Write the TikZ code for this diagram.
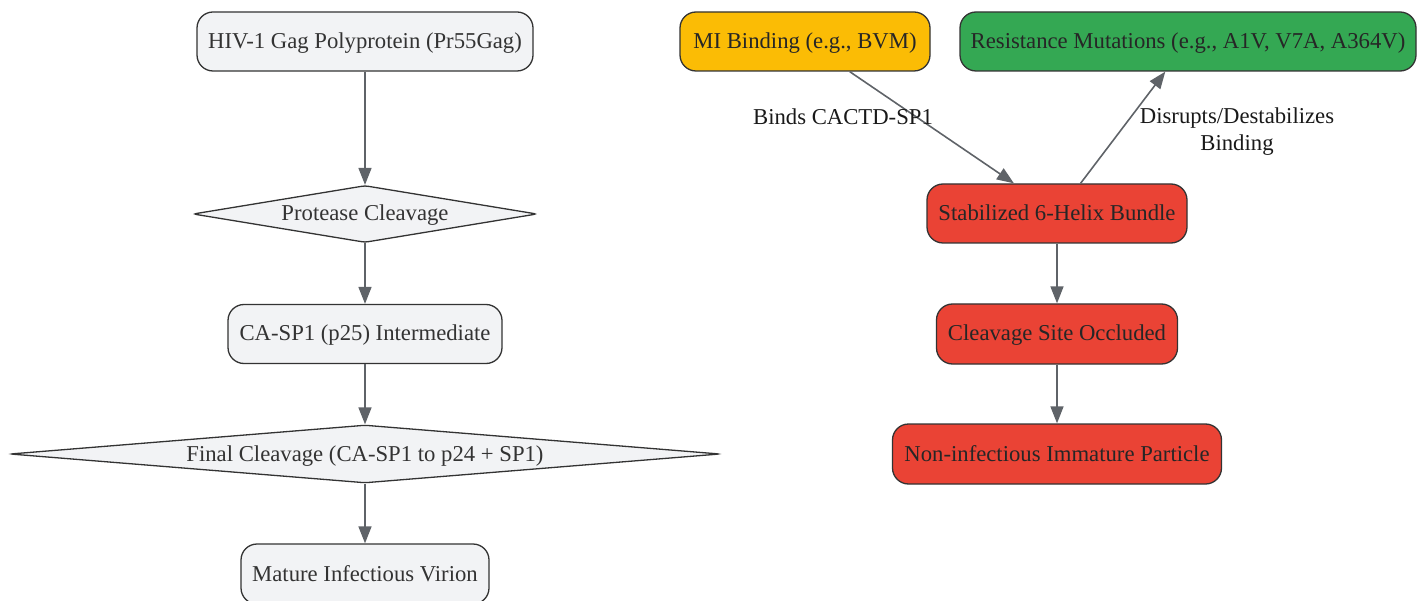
\documentclass[tikz,border=0pt]{standalone}
\usepackage{fontspec}
\setmainfont{Liberation Serif}
\usetikzlibrary{shapes.geometric,arrows.meta}
\definecolor{boxgray}{HTML}{F2F3F5}
\definecolor{linegray}{HTML}{333333}
\definecolor{edgegray}{HTML}{5F6368}
\definecolor{miyellow}{HTML}{FBBC05}
\definecolor{resgreen}{HTML}{34A853}
\definecolor{blockred}{HTML}{EA4335}
\begin{document}
\begin{tikzpicture}[x=1pt,y=-1pt,
  every node/.style={font=\fontsize{22.7}{27}\selectfont},
  stepbox/.style={draw=linegray,line width=1.3pt,rounded corners=16pt,fill=boxgray,
    text=linegray,minimum height=59pt,inner xsep=0pt,text height=17pt,text depth=3pt},
  decision/.style={draw=linegray,line width=1.3pt,shape=diamond,rounded corners=3pt,
    fill=boxgray,text=linegray,inner sep=0pt,minimum height=57pt,text height=17pt,text depth=3pt},
  flow/.style={draw=edgegray,line width=1.6pt,-{Triangle[length=17pt,width=13pt]}},
  elabel/.style={text=black!90,align=center}]
\useasboundingbox (0,0) rectangle (1423,601);
% left column: normal maturation
\node[stepbox,minimum width=336pt] (gag) at (365,41.5) {HIV-1 Gag Polyprotein (Pr55Gag)};
\node[decision,aspect=7,minimum width=344pt] (prot) at (365,214) {Protease Cleavage};
\node[stepbox,minimum width=274pt] (casp) at (365,334) {CA-SP1 (p25) Intermediate};
\node[decision,aspect=12,minimum width=710pt,minimum height=58pt] (final) at (365,454) {Final Cleavage (CA-SP1 to p24 + SP1)};
\node[stepbox,minimum width=248pt,minimum height=60pt] (virion) at (365,574) {Mature Infectious Virion};
% right column: inhibitor action
\node[stepbox,fill=miyellow,text=black!85,minimum width=250pt] (mi) at (805,41.5) {MI Binding (e.g., BVM)};
\node[stepbox,fill=resgreen,text=black!85,minimum width=456pt] (res) at (1188,41.5) {Resistance Mutations (e.g., A1V, V7A, A364V)};
\node[stepbox,fill=blockred,text=black!85,minimum width=260pt] (bundle) at (1057,213.5) {Stabilized 6-Helix Bundle};
\node[stepbox,fill=blockred,text=black!85,minimum width=241pt,minimum height=60pt] (occl) at (1057,334) {Cleavage Site Occluded};
\node[stepbox,fill=blockred,text=black!85,minimum width=329pt,minimum height=60pt] (nonin) at (1057,454) {Non-infectious Immature Particle};
\draw[flow] (gag) -- (prot);
\draw[flow] (prot) -- (casp);
\draw[flow] (casp) -- (final);
\draw[flow] (final) -- (virion);
\draw[flow] (mi.-34) -- (bundle.145);
\draw[flow] (bundle.52) -- (res.233);
\draw[flow] (bundle) -- (occl);
\draw[flow] (occl) -- (nonin);
\node[elabel] (lbind) at (843,117) {Binds CACTD-SP1};
\node[elabel] (ldisr) at (1237,131.5) {Disrupts/Destabilizes\\Binding};
\end{tikzpicture}
\end{document}
